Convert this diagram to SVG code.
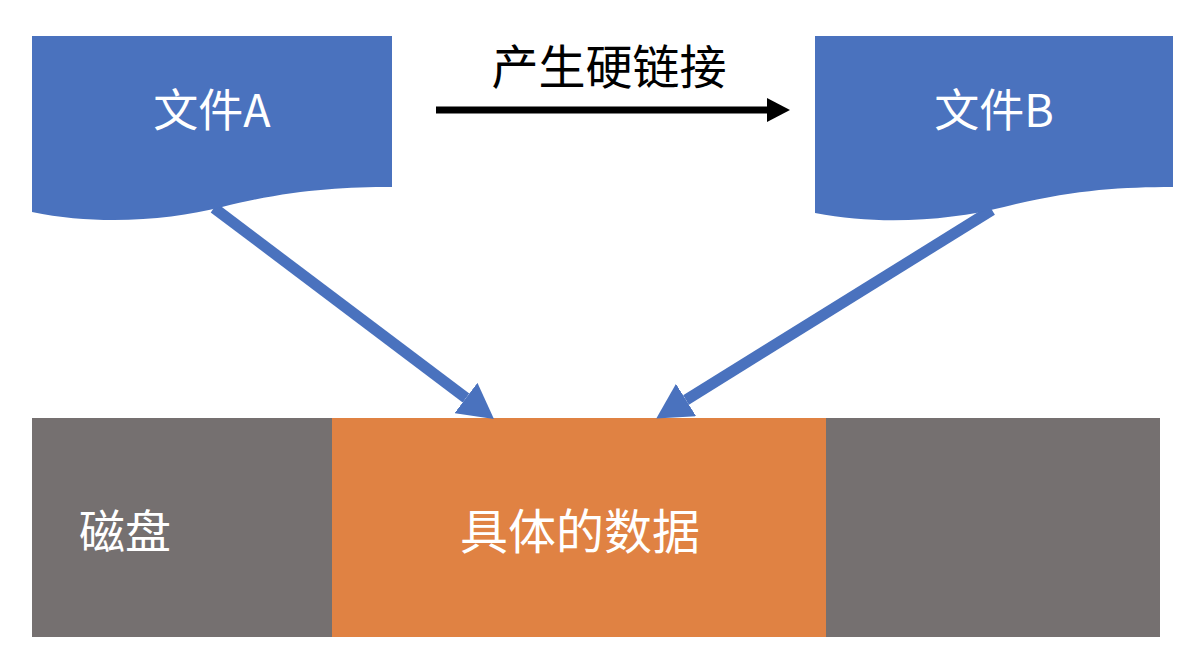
<svg xmlns="http://www.w3.org/2000/svg" width="1190" height="652" viewBox="0 0 1190 652">
<style>
.doc{fill:#4A72BE}
.lbl{font-family:"Noto Sans CJK SC","Noto Sans",sans-serif;fill:#fff;text-anchor:middle;dominant-baseline:central}
.ttl{font-family:"Noto Sans CJK SC","Noto Sans",sans-serif;fill:#000;text-anchor:middle;dominant-baseline:central;font-size:47px}
.blue{stroke:#4A72BE;stroke-width:11;fill:none}
</style>
<defs>
<marker id="bh" markerUnits="userSpaceOnUse" markerWidth="36" markerHeight="38" refX="0" refY="19" orient="auto" viewBox="0 0 36 38">
<path d="M0,0 L35,19 L0,38 Z" fill="#4A72BE"/>
</marker>
</defs>
<rect width="1190" height="652" fill="#fff"/>
<g id="disk">
<rect x="32" y="418" width="1128" height="219" fill="#757070"/>
<text class="lbl" x="125" y="528" font-size="46">磁盘</text>
</g>
<g id="data">
<rect x="332" y="418" width="494" height="219" fill="#E08243"/>
<text class="lbl" x="580" y="528" font-size="48">具体的数据</text>
</g>
<g id="connectors">
<path class="blue" d="M214,208 L466,398" marker-end="url(#bh)"/>
<path class="blue" d="M992,210 L686,400" marker-end="url(#bh)"/>
<line x1="436" y1="110" x2="770" y2="110" stroke="#000" stroke-width="7"/>
<path d="M767,98 L790,110 L767,122 Z" fill="#000"/>
<text class="ttl" x="609" y="63">产生硬链接</text>
</g>
<g id="fileA">
<path class="doc" d="M32,36 H392 V187 C340,187 290,190 222,207 C170,220 100,226 32,212 Z"/>
<text class="lbl" x="212" y="107" font-size="45">文件A</text>
</g>
<g id="fileB">
<path class="doc" d="M815,36 H1173 V187 C1121,187 1071,190 1004,207 C952,220 882,226 815,213 Z"/>
<text class="lbl" x="994" y="107" font-size="45">文件B</text>
</g>
</svg>
